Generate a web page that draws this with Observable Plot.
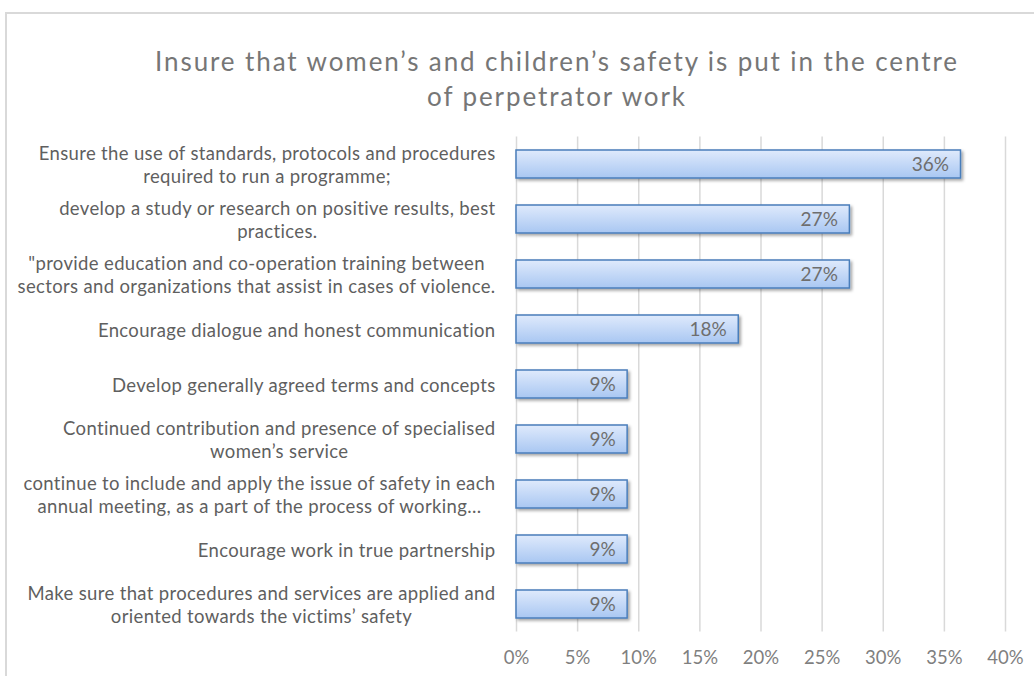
<!DOCTYPE html>
<html><head><meta charset="utf-8">
<script src="https://cdn.jsdelivr.net/npm/d3@7"></script>
<script src="https://cdn.jsdelivr.net/npm/@observablehq/plot@0.6"></script>
<style>
body{margin:0;background:#fff;}
#wrap{position:relative;width:1034px;height:676px;overflow:hidden;font-family:Lato,"Open Sans",sans-serif;}
#frame{position:absolute;left:5px;top:12px;width:1100px;height:800px;border:2px solid #d9d9d9;box-sizing:border-box;}
#title{position:absolute;left:80px;width:954px;top:44px;text-align:center;font-size:26px;line-height:35px;color:#767676;letter-spacing:1.9px;}
#chart{position:absolute;left:0;top:0;}
</style>
</head><body>
<div id="wrap">
  <div id="frame"></div>
  <div id="title">Insure that women’s and children’s safety is put in the centre<br>of perpetrator work</div>
  <div id="chart"></div>
</div>
<script>
const categories = [
  "Ensure the use of standards, protocols and procedures\nrequired to run a programme;",
  "develop a study or research on positive results, best\npractices.",
  "\"provide education and co-operation training between\nsectors and organizations that assist in cases of violence.",
  "Encourage dialogue and honest communication",
  "Develop generally agreed terms and concepts",
  "Continued contribution and presence of specialised\nwomen’s service",
  "continue to include and apply the issue of safety in each\nannual meeting, as a part of the process of working…",
  "Encourage work in true partnership",
  "Make sure that procedures and services are applied and\noriented towards the victims’ safety"
];
const values = [36.36, 27.27, 27.27, 18.18, 9.09, 9.09, 9.09, 9.09, 9.09];
const valueLabels = ["36%", "27%", "27%", "18%", "9%", "9%", "9%", "9%", "9%"];
const xTicks = [0, 5, 10, 15, 20, 25, 30, 35, 40];

const data = categories.map((c, i) => ({c, v: values[i], l: valueLabels[i]}));

const chart = Plot.plot({
  width: 1034, height: 676,
  marginLeft: 516, marginRight: 29, marginTop: 136.5, marginBottom: 44.5,
  style: {fontFamily: "Lato, 'Open Sans', sans-serif", fontSize: "18px", background: "transparent", overflow: "visible"},
  x: {domain: [0, 40]},
  y: {domain: categories, paddingInner: 0.49, paddingOuter: 0.245},
  marks: [
    Plot.gridX(xTicks, {stroke: "#d9d9d9", strokeOpacity: 1, strokeWidth: 1.5}),
    Plot.barX(data, {x: "v", y: "c", fill: "url(#barGrad)", stroke: "#4a7ebb", strokeWidth: 1.5}),
    Plot.text(data, {x: "v", y: "c", text: "l", textAnchor: "end", dx: -12, fill: "#6e6e6e", fontSize: 19}),
    Plot.axisX({ticks: xTicks, tickFormat: d => d + "%", tickSize: 0, tickPadding: 19, fill: "#7f7f7f", fontSize: 18.5, label: null}),
    Plot.axisY({tickSize: 0, tickPadding: 21, lineHeight: 1.24, fill: "#5f5f5f", fontSize: 18.5, label: null})
  ]
});
document.getElementById("chart").appendChild(chart);

const svg = d3.select(chart);
svg.selectAll('g[aria-label="y-axis tick label"]').style("letter-spacing", "0.35px");
const defs = svg.insert("defs", ":first-child");
const grad = defs.append("linearGradient").attr("id", "barGrad").attr("x1", 0).attr("y1", 0).attr("x2", 0).attr("y2", 1);
grad.append("stop").attr("offset", "0%").attr("stop-color", "#dfeafc");
grad.append("stop").attr("offset", "100%").attr("stop-color", "#a9c7f2");
const filt = defs.append("filter").attr("id", "shadow").attr("x", "-5%").attr("y", "-30%").attr("width", "115%").attr("height", "180%");
filt.append("feDropShadow").attr("dx", 2).attr("dy", 2).attr("stdDeviation", 1.5).attr("flood-color", "#000").attr("flood-opacity", 0.35);
svg.selectAll('g[aria-label="bar"]').attr("filter", "url(#shadow)");

// center multi-line category labels within their block (as in the original)
svg.selectAll('g[aria-label="y-axis tick label"] text').each(function() {
  const tspans = this.querySelectorAll("tspan");
  if (tspans.length < 2) return;
  let maxW = 0;
  tspans.forEach(t => { maxW = Math.max(maxW, t.getComputedTextLength()); });
  this.setAttribute("text-anchor", "middle");
  tspans.forEach(t => t.setAttribute("x", -maxW / 2));
});
</script>
</body></html>
